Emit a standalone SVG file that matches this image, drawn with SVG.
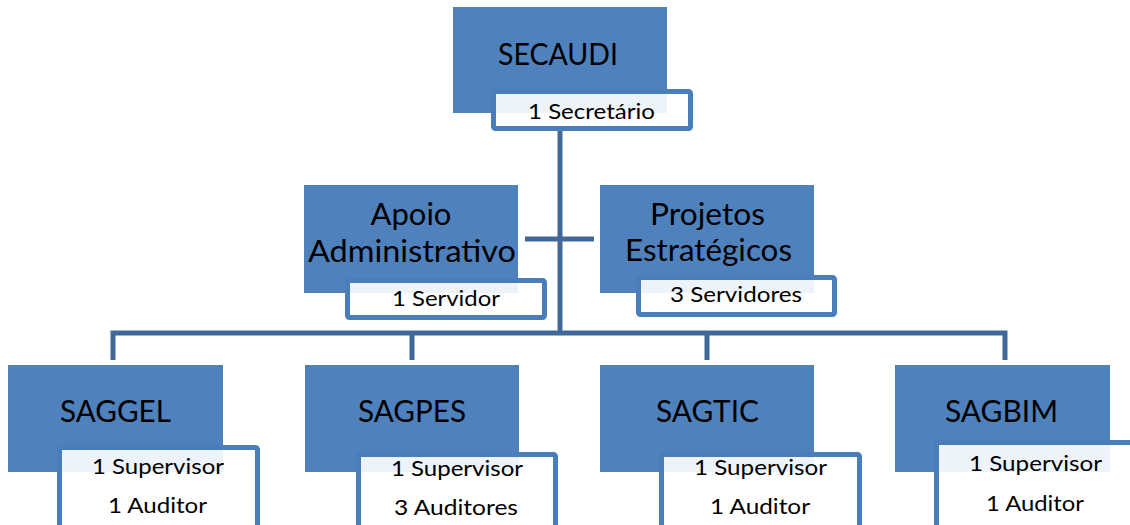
<svg xmlns="http://www.w3.org/2000/svg" width="1130" height="525" viewBox="0 0 1130 525">
<style>
.box{fill:#4F81BD;}
.sub{fill:#FFFFFF;fill-opacity:0.9;stroke:#4A7EBB;stroke-width:5;}
.conn{stroke:#40699A;stroke-width:5;fill:none;}
.t{font-family:Lato,"Liberation Sans",sans-serif;font-size:31px;fill:#000;}
.s{font-family:Lato,"Liberation Sans",sans-serif;font-size:22px;fill:#000;}
</style>
<rect width="1130" height="525" fill="#FFFFFF"/>
<g id="connectors">
<line class="conn" x1="560" y1="129" x2="560" y2="335"/>
<line class="conn" x1="525" y1="239" x2="594" y2="239"/>
<polyline class="conn" points="113,360 113,333 1005,333 1005,360"/>
<line class="conn" x1="412" y1="333" x2="412" y2="360"/>
<line class="conn" x1="707" y1="333" x2="707" y2="360"/>
</g>
<g id="secaudi">
<rect class="box" x="453" y="7" width="214" height="106"/>
<text class="t" x="498" y="65" textLength="120" lengthAdjust="spacingAndGlyphs">SECAUDI</text>
<rect class="sub" x="493.5" y="91.5" width="197" height="37" rx="2"/>
<text class="s" x="528" y="119" textLength="127" lengthAdjust="spacingAndGlyphs">1 Secretário</text>
</g>
<g id="apoio">
<rect class="box" x="304" y="185" width="214" height="108"/>
<text class="t" x="411" y="225" text-anchor="middle">Apoio</text>
<text class="t" x="308" y="262" textLength="208" lengthAdjust="spacingAndGlyphs">Administrativo</text>
<rect class="sub" x="347.5" y="280.5" width="197" height="37" rx="2"/>
<text class="s" x="392" y="306" textLength="108" lengthAdjust="spacingAndGlyphs">1 Servidor</text>
</g>
<g id="projetos">
<rect class="box" x="600" y="185" width="214" height="108"/>
<text class="t" x="650" y="225" textLength="115" lengthAdjust="spacingAndGlyphs">Projetos</text>
<text class="t" x="625" y="261" textLength="167" lengthAdjust="spacingAndGlyphs">Estratégicos</text>
<rect class="sub" x="638.5" y="277.5" width="196" height="37" rx="2"/>
<text class="s" x="670" y="302" textLength="132" lengthAdjust="spacingAndGlyphs">3 Servidores</text>
</g>
<g id="saggel">
<rect class="box" x="8" y="365" width="215" height="107"/>
<text class="t" x="60" y="422" textLength="111" lengthAdjust="spacingAndGlyphs">SAGGEL</text>
<rect class="sub" x="59.5" y="447.5" width="198" height="80" rx="2"/>
<text class="s" x="92" y="474" textLength="132" lengthAdjust="spacingAndGlyphs">1 Supervisor</text>
<text class="s" x="108" y="513" textLength="99" lengthAdjust="spacingAndGlyphs">1 Auditor</text>
</g>
<g id="sagpes">
<rect class="box" x="305" y="365" width="214" height="107"/>
<text class="t" x="358" y="422" textLength="108" lengthAdjust="spacingAndGlyphs">SAGPES</text>
<rect class="sub" x="358.5" y="454.5" width="197" height="73" rx="2"/>
<text class="s" x="391" y="476" textLength="132" lengthAdjust="spacingAndGlyphs">1 Supervisor</text>
<text class="s" x="394" y="515" textLength="124" lengthAdjust="spacingAndGlyphs">3 Auditores</text>
</g>
<g id="sagtic">
<rect class="box" x="600" y="365" width="214" height="107"/>
<text class="t" x="656" y="422" textLength="103" lengthAdjust="spacingAndGlyphs">SAGTIC</text>
<rect class="sub" x="661.5" y="454.5" width="198" height="73" rx="2"/>
<text class="s" x="694" y="475" textLength="133" lengthAdjust="spacingAndGlyphs">1 Supervisor</text>
<text class="s" x="710" y="514" textLength="100" lengthAdjust="spacingAndGlyphs">1 Auditor</text>
</g>
<g id="sagbim">
<rect class="box" x="895" y="365" width="215" height="107"/>
<text class="t" x="945" y="422" textLength="113" lengthAdjust="spacingAndGlyphs">SAGBIM</text>
<rect class="sub" x="936.5" y="442.5" width="200" height="85" rx="2"/>
<text class="s" x="969" y="471" textLength="133" lengthAdjust="spacingAndGlyphs">1 Supervisor</text>
<text class="s" x="986" y="511" textLength="98" lengthAdjust="spacingAndGlyphs">1 Auditor</text>
</g>
</svg>
